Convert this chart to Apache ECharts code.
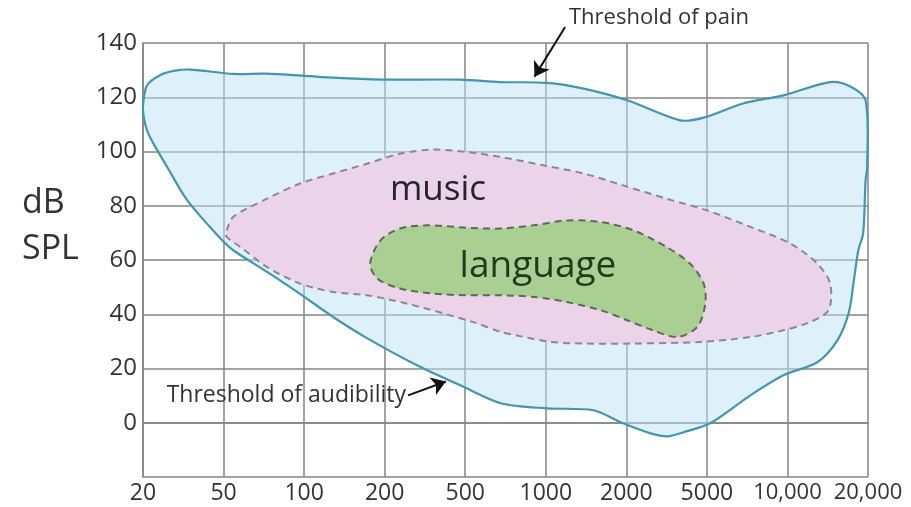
<!DOCTYPE html>
<html>
<head>
<meta charset="utf-8">
<script src="https://cdn.jsdelivr.net/npm/echarts@6/dist/echarts.min.js"></script>
<style>
html, body { margin: 0; padding: 0; background: #fff; }
#chart { width: 911px; height: 507px; }
</style>
</head>
<body>
<div id="chart"></div>
<script>
const FONT = '"Open Sans", "Noto Sans", sans-serif';

const FREQ_LABELS = ['20', '50', '100', '200', '500', '1000', '2000', '5000', '10,000', '20,000'];
const DB_MIN = -20, DB_MAX = 140, DB_STEP = 20;

// outlines as [frequency index, dB]
const HEARING = [
    [0, 117], [0.05, 124.4], [0.21, 128.1], [0.38, 129.7], [0.59, 130.2], [1.12, 128.6], [1.54, 128.7],
    [2.36, 127.2], [2.98, 126.5], [3.94, 126.5], [4.43, 125.6], [5.02, 125.3], [5.47, 123.2], [6.01, 118.9],
    [6.67, 111.5], [6.96, 112.5], [7.45, 117.7], [7.95, 120.7], [8.53, 125.6], [8.78, 124], [8.97, 118.9],
    [8.99, 94.3], [8.97, 89.4], [8.94, 69.9], [8.88, 63.6], [8.82, 51.5], [8.76, 40.4], [8.62, 30.4],
    [8.37, 22.3], [7.95, 17.5], [7.54, 10.1], [7.04, -0.2], [6.71, -3.5], [6.51, -5], [6.3, -3.9],
    [5.96, -0.2], [5.59, 4.6], [5.02, 5.3], [4.44, 7.2], [3.94, 13.8], [3.4, 21.2], [2.78, 31.2],
    [2.36, 39], [1.94, 47.7], [1.54, 55.6], [1.12, 63.6], [0.96, 68], [0.55, 82], [0.3, 94.3],
    [0.13, 102.9], [0.05, 107.8], [0.01, 112.7]
];
const MUSIC = [
    [1.04, 70.9], [1.12, 75.9], [1.54, 82.6], [1.95, 88.2], [2.36, 91.9], [2.78, 95.5], [3.19, 99.2],
    [3.6, 100.7], [4.02, 99.8], [4.44, 98], [4.97, 94.9], [5.47, 91.9], [5.96, 87.5], [6.5, 82.6],
    [7, 78.3], [7.54, 72.2], [8.04, 66], [8.37, 58.7], [8.53, 51.3], [8.51, 41.5], [8.28, 37.1],
    [7.95, 34.1], [7.54, 31.6], [6.92, 29.8], [6.09, 29.2], [5.47, 29.2], [5.06, 29.8], [4.64, 32.2],
    [4.44, 33.5], [4.1, 37.1], [3.28, 43.9], [2.78, 47], [2.36, 48.2], [1.95, 51.3], [1.54, 57.4],
    [1.21, 64.8], [1.04, 68.5]
];
const LANGUAGE = [
    [2.82, 58.7], [2.95, 67.3], [3.19, 71.6], [3.53, 72.8], [4.02, 71.9], [4.44, 71.6], [4.85, 72.8],
    [5.26, 74.6], [5.68, 74], [6.09, 70.9], [6.5, 64.8], [6.79, 58.7], [6.96, 51.3], [6.98, 43.9],
    [6.88, 35.3], [6.63, 31.6], [6.33, 34.1], [6.01, 37.8], [5.68, 41.5], [5.26, 44.5], [4.85, 46.4],
    [4.44, 47], [4.02, 47], [3.6, 47.6], [3.19, 49.5], [2.91, 53.1]
];
const PAIN_ARROW = [[5.24, 145.9], [4.86, 127.6]];
const AUDIBILITY_ARROW = [[3.29, 10.1], [3.76, 15.2]];

function regionSeries(points, fill, stroke, dash, width) {
    return {
        type: 'custom',
        data: points,
        silent: true,
        renderItem(params, api) {
            if (params.dataIndex !== 0) return null;
            return {
                type: 'polygon',
                shape: { points: points.map(p => api.coord(p)), smooth: 0.3 },
                style: { fill, stroke, lineWidth: width, lineDash: dash }
            };
        }
    };
}

function arrowSeries(coords) {
    return {
        type: 'lines',
        coordinateSystem: 'cartesian2d',
        silent: true,
        clip: false,
        z: 5,
        symbol: ['none', 'arrow'],
        symbolSize: 14,
        lineStyle: { color: '#111', width: 2, opacity: 1 },
        data: [{ coords }]
    };
}

function label(text, x, y, size, color, align = 'left') {
    return {
        type: 'text', x, y, z: 100, silent: true,
        style: { text, font: size + 'px ' + FONT, fill: color, align, verticalAlign: 'middle' }
    };
}

const chart = echarts.init(document.getElementById('chart'), null, { renderer: 'canvas' });
chart.setOption({
    animation: false,
    grid: { left: 143, right: 43, top: 43, bottom: 30 },
    xAxis: {
        type: 'value', min: 0, max: FREQ_LABELS.length - 1, interval: 1,
        axisTick: { show: false },
        axisLine: { lineStyle: { color: '#858585', width: 1.5 } },
        splitLine: { lineStyle: { color: '#858585', width: 1.5 } },
        axisLabel: {
            margin: 5, fontSize: 23, color: '#333', fontFamily: FONT,
            showMinLabel: true, showMaxLabel: true,
            formatter: v => {
                const s = FREQ_LABELS[v];
                return s.length > 5 ? '{s|' + s + '}' : s;
            },
            rich: { s: { fontSize: 22, color: '#333', fontFamily: FONT } }
        }
    },
    yAxis: {
        type: 'value', min: DB_MIN, max: DB_MAX, interval: DB_STEP,
        axisTick: { show: false },
        axisLine: { show: true, lineStyle: { color: '#858585', width: 1.5 } },
        splitLine: { lineStyle: { color: '#858585', width: 1.5 } },
        axisLabel: {
            margin: 6, fontSize: 24, color: '#333', fontFamily: FONT,
            formatter: v => (v === DB_MIN ? '' : String(v))
        }
    },
    series: [
        regionSeries(HEARING, 'rgba(190,225,245,0.5)', '#4396ad', null, 2.2),
        regionSeries(MUSIC, '#ebd3e9', '#8f8596', [7, 5], 2),
        regionSeries(LANGUAGE, '#a9cf93', '#5d6a55', [7, 5], 2),
        arrowSeries(PAIN_ARROW),
        arrowSeries(AUDIBILITY_ARROW)
    ],
    graphic: [
        label('dB', 22, 203, 34, '#333'),
        label('SPL', 22, 249, 34, '#333'),
        label('music', 438, 190, 35, '#2b2230', 'center'),
        label('language', 538, 266, 37, '#1f3a1c', 'center'),
        label('Threshold of pain', 569, 18, 22, '#333'),
        label('Threshold of audibility', 406, 395, 23, '#333', 'right')
    ]
});
</script>
</body>
</html>
